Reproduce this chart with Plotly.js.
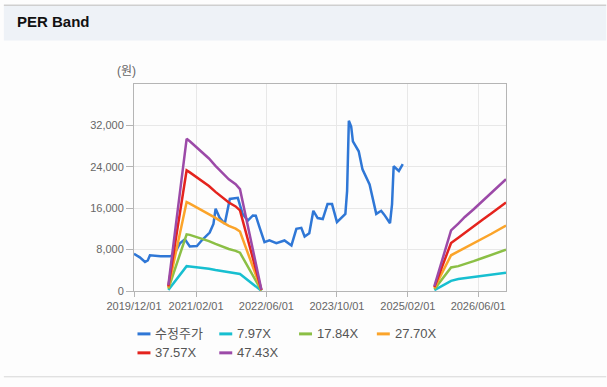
<!DOCTYPE html>
<html>
<head>
<meta charset="utf-8">
<script src="https://cdn.plot.ly/plotly-3.0.1.min.js"></script>
<style>
html,body{margin:0;padding:0;background:#fdfdfd;}
#chart{width:607px;height:387px;}
</style>
</head>
<body>
<div id="chart"></div>
<script>
// ---- data ----
const priceDates = ['2019-12-01','2020-01-10','2020-02-15','2020-03-05','2020-03-20','2020-04-20','2020-06-01','2020-08-05','2020-09-01','2020-10-13','2020-11-05','2020-11-16','2020-12-20','2021-02-07','2021-03-13','2021-05-06','2021-06-01','2021-06-16','2021-07-13','2021-08-18','2021-09-22','2021-11-16','2021-12-19','2022-01-24','2022-02-28','2022-03-20','2022-04-15','2022-05-19','2022-06-22','2022-08-09','2022-10-04','2022-11-21','2022-12-25','2023-01-28','2023-02-20','2023-03-24','2023-04-21','2023-05-21','2023-06-25','2023-07-28','2023-08-28','2023-10-01','2023-11-28','2023-12-10','2023-12-22','2024-01-07','2024-01-19','2024-02-28','2024-03-25','2024-05-13','2024-06-28','2024-08-01','2024-08-22','2024-10-01','2024-10-15','2024-10-26','2024-12-01','2024-12-28'];
const priceValues = [7200,6500,5600,5900,6900,6800,6700,6700,7000,9200,9640,10000,8600,8700,9800,11300,12970,15900,14200,13000,17800,18000,14900,13600,14600,14560,12300,9450,9770,9260,9770,8810,12000,12200,10540,11170,15500,14100,13900,16800,16800,13300,14900,19350,32900,31800,28930,27000,23500,20600,14900,15500,14750,13100,16800,24100,23200,24500];

const bandDates = ['2020-07-25','2020-11-28','2020-12-20','2021-02-05','2021-03-15','2021-05-01','2021-06-15','2021-08-01','2021-09-15','2021-11-01','2021-12-01','2022-04-28','2023-06-01','2025-08-03','2025-11-26','2026-01-15','2026-03-01','2026-05-01','2026-07-01','2026-09-01','2026-12-10'];
const band797  = [190,4800,4750,4620,4480,4300,4060,3850,3650,3480,3280,40,null,160,1970,2300,2480,2700,2920,3150,3510];
const band1784 = [430,10950,10850,10440,10080,9630,9100,8560,8120,7760,7400,90,null,360,4540,4800,5150,5760,6370,6980,7990];
const band2770 = [665,17200,16900,16200,15650,14960,14130,13300,12600,12050,11500,140,null,550,6900,7650,8310,9230,10140,11060,12650];
const band3757 = [900,23300,22920,21980,21230,20290,19160,18030,17090,16340,15590,190,null,750,9280,10300,11270,12510,13750,15030,17100];
const band4743 = [1140,29400,28930,27750,26800,25610,24190,22770,21580,20630,19680,240,null,950,11700,13000,14300,15800,17360,18970,21600];

const seriesNames = ['수정주가','7.97X','17.84X','27.70X','37.57X','47.43X'];
const xTickVals = ['2019-12-01','2021-02-01','2022-06-01','2023-10-01','2025-02-01','2026-06-01'];
const xTickText = ['2019/12/01','2021/02/01','2022/06/01','2023/10/01','2025/02/01','2026/06/01'];
const yTickVals = [0,8000,16000,24000,32000];

// ---- styling ----
const colors = ['#2f77d6','#17bfd0','#8bbf45','#fba42a','#e4231d','#9c4aa8'];
const bandSeries = [band797, band1784, band2770, band3757, band4743];

const traces = [{
  x: priceDates, y: priceValues, type: 'scatter', mode: 'lines',
  name: seriesNames[0], line: {color: colors[0], width: 2.5}, hoverinfo: 'skip'
}];
bandSeries.forEach((vals, i) => {
  traces.push({
    x: bandDates, y: vals, type: 'scatter', mode: 'lines', connectgaps: false,
    name: seriesNames[i+1], line: {color: colors[i+1], width: 2.5}, hoverinfo: 'skip'
  });
});

const L = 133.5, R = 506.5, T = 83.5, B = 291, W = 607, H = 387;
const px = v => (v - L) / (R - L);
const py = v => (B - v) / (B - T);

const shapes = [
  {type:'rect', xref:'paper', yref:'paper', x0:px(3), x1:px(607), y0:py(40), y1:py(5), fillcolor:'#eef2f7', line:{width:0}, layer:'below'},
  {type:'line', xref:'paper', yref:'paper', x0:px(3), x1:px(607), y0:py(4.5), y1:py(4.5), line:{color:'#cfcfcf', width:1.5}},
  {type:'line', xref:'paper', yref:'paper', x0:px(3), x1:px(607), y0:py(377), y1:py(377), line:{color:'#d6d6d6', width:1}}
];
const annotations = [
  {xref:'paper', yref:'paper', x:px(126), y:py(70), text:'(원)', showarrow:false, xanchor:'center', yanchor:'middle', font:{size:12, color:'#666'}}
];
// custom legend
const legendPos = [[137,334],[219,334],[299,334],[377,334],[137,353],[219,353]];
seriesNames.forEach((n, i) => {
  const [lx, ly] = legendPos[i];
  shapes.push({type:'line', xref:'paper', yref:'paper', x0:px(lx), x1:px(lx+13), y0:py(ly), y1:py(ly), line:{color:colors[i], width:3}});
  annotations.push({xref:'paper', yref:'paper', x:px(lx+16), y:py(ly), text:n, showarrow:false, xanchor:'left', yanchor:'middle', font:{size:13, color:'#555'}});
});

const layout = {
  width: W, height: H,
  margin: {l: L, r: W - R, t: T, b: H - B, pad: 0},
  paper_bgcolor: '#fdfdfd', plot_bgcolor: '#fdfdfd',
  font: {family: '"Liberation Sans", Arial, "Noto Sans CJK KR", sans-serif', color: '#666'},
  title: {text: '<b>PER Band</b>', xref: 'container', yref: 'container', x: 17/W, xanchor: 'left', y: 1 - 22/H, yanchor: 'middle',
          font: {size: 15, color: '#111', family: '"Liberation Sans", Arial, "Noto Sans CJK KR", sans-serif'}},
  showlegend: false,
  xaxis: {
    type: 'date', range: ['2019-12-01','2026-12-10'],
    tickmode: 'array', tickvals: xTickVals, ticktext: xTickText,
    showgrid: true, gridcolor: '#e8e8e8', gridwidth: 1,
    showline: true, linecolor: '#b5b5b5', linewidth: 1, mirror: true,
    ticks: 'outside', ticklen: 5, tickcolor: '#b5b5b5',
    tickfont: {size: 11, color: '#666'}, zeroline: false, fixedrange: true
  },
  yaxis: {
    range: [0, 40000], tickmode: 'array', tickvals: yTickVals, tickformat: ',d',
    showgrid: true, gridcolor: '#e8e8e8', gridwidth: 1,
    showline: true, linecolor: '#b5b5b5', linewidth: 1, mirror: true,
    ticks: 'outside', ticklen: 7, tickcolor: '#b5b5b5',
    tickfont: {size: 11, color: '#666'}, zeroline: false, fixedrange: true
  },
  shapes: shapes,
  annotations: annotations
};

Plotly.newPlot('chart', traces, layout, {staticPlot: true, displayModeBar: false});
</script>
</body>
</html>
